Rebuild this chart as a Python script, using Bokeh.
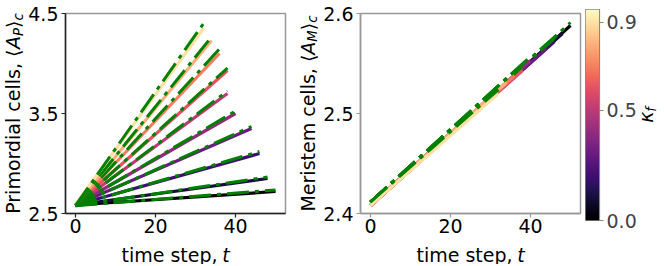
import math
import numpy as np
from bokeh.plotting import figure
from bokeh.layouts import row, column
from bokeh.models import Range1d, FixedTicker, Label, LinearColorMapper, PrintfTickFormatter
from bokeh.palettes import Magma256
from bokeh.embed import file_html
from bokeh.resources import INLINE

# ---------------- data ----------------
kappa = [0.0, 0.1, 0.2, 0.3, 0.4, 0.5, 0.6, 0.7, 0.8, 0.9]
t_end = [50, 48, 46, 44, 40, 38, 38, 36, 34, 32]

# primordial cells <A_P>_c : simulation (solid) and fit (green dash-dot)
ap_start = [2.585, 2.585, 2.585, 2.585, 2.585, 2.585, 2.585, 2.585, 2.585, 2.59]
ap_end = [2.72, 2.85, 3.10, 3.35, 3.50, 3.70, 3.93, 4.10, 4.23, 4.35]
ap_fit_start = [2.578, 2.578, 2.578, 2.578, 2.578, 2.578, 2.578, 2.578, 2.578, 2.578]
ap_fit_end = [2.735, 2.865, 3.12, 3.37, 3.525, 3.725, 3.955, 4.145, 4.265, 4.40]

# meristem cells <A_M>_c
am_start = [2.408, 2.408, 2.408, 2.408, 2.408, 2.408, 2.408, 2.408, 2.408, 2.408]
am_end = [2.588, 2.580, 2.572, 2.565, 2.553, 2.545, 2.543, 2.538, 2.531, 2.520]
am_fit_start = [2.4115, 2.4115, 2.4115, 2.4115, 2.4115, 2.4115, 2.4115, 2.4115, 2.4115, 2.4115]
am_fit_end = [2.591, 2.583, 2.575, 2.568, 2.557, 2.549, 2.547, 2.542, 2.535, 2.524]

x_ticks = [0, 20, 40]
ap_ticks = [2.5, 3.5, 4.5]
am_ticks = [2.4, 2.5, 2.6]
cb_ticks = [0.0, 0.5, 0.9]
cb_low, cb_high = 0.0, 0.958

# ---------------- style / layout ----------------
FONT = "DejaVu Sans"
FS = 19
SUB = 13.3
MID = 0.36            # distance (em) from baseline to the text middle
FIT_COLOR = "green"
DARK = "#222222"
GRAY = "#999999"
H_MAIN = 240
H_XL = 24
H_ALL = H_MAIN + H_XL
CB_TOP, CB_BOTTOM = 9, 220          # colour bar frame (page px)
SIDE_TOP, SIDE_BOT = CB_TOP, H_ALL - CB_BOTTOM

colors = [Magma256[int(round((k - cb_low) / (cb_high - cb_low) * 255))] for k in kappa]


def base_fig(width, xr, yr, mbl, mbr, axis_color):
    p = figure(width=width, height=H_MAIN, x_range=Range1d(*xr), y_range=Range1d(*yr),
               output_backend="svg", toolbar_location=None,
               min_border_left=mbl, min_border_right=mbr, min_border_top=13, min_border_bottom=27)
    p.xgrid.grid_line_color = None
    p.ygrid.grid_line_color = None
    p.outline_line_color = GRAY
    p.outline_line_width = 1.5
    for ax in (p.xaxis[0], p.yaxis[0]):
        ax.axis_line_color = axis_color
        ax.axis_line_width = 1.5
        ax.major_tick_line_color = axis_color
        ax.major_tick_line_width = 1.2
        ax.major_tick_in = 0
        ax.major_tick_out = 4
        ax.minor_tick_line_color = None
        ax.major_label_text_font = FONT
        ax.major_label_text_font_size = f"{FS}px"
        ax.major_label_text_color = "black"
    p.xaxis[0].major_label_standoff = 1
    p.yaxis[0].major_label_standoff = 3
    p.xaxis[0].ticker = FixedTicker(ticks=x_ticks)
    return p


def label_fig(x0, width, height, mbl, mbr, mbt, mbb, y_bottom_page):
    # a text-only figure whose data coordinates are page pixels (y measured upward from page bottom)
    fl, fr = x0 + mbl, x0 + width - mbr
    ft, fb = y_bottom_page - height + mbt, y_bottom_page - mbb
    p = figure(width=width, height=height,
               x_range=Range1d(fl, fr), y_range=Range1d(H_ALL - fb, H_ALL - ft),
               output_backend="svg", toolbar_location=None,
               x_axis_location=None, y_axis_location=None,
               min_border_left=mbl, min_border_right=mbr, min_border_top=mbt, min_border_bottom=mbb)
    p.xgrid.grid_line_color = None
    p.ygrid.grid_line_color = None
    p.outline_line_color = None
    return p


def add_piece(p, x, y, text, size, italic, angle, baseline):
    p.add_layout(Label(x=x, y=H_ALL - y, text=text, angle=angle,
                       text_align="left", text_baseline=baseline,
                       text_font=FONT, text_font_size=f"{size}px",
                       text_font_style="italic" if italic else "normal",
                       text_color="black"))


def rot_label(p, bx, cy, pieces):
    # text reading upward; bx = page x of the main baseline, centred on page y = cy
    tot = sum(pc[4] for pc in pieces)
    y = cy + tot / 2
    for text, size, italic, shift, adv in pieces:
        add_piece(p, bx + shift - MID * size, y, text, size, italic, math.pi / 2, "middle")
        y -= adv


def horiz_label(p, cx, by, pieces):
    tot = sum(pc[4] for pc in pieces)
    x = cx - tot / 2
    for text, size, italic, shift, adv in pieces:
        add_piece(p, x, by + shift, text, size, italic, 0, "alphabetic")
        x += adv


XR = (-2.5, 52.5)
xl_pieces = [("time step, ", FS, False, 0, 5.376 * FS), ("t", FS, True, 0, 0.392 * FS)]

# ---------------- left panel ----------------
p1 = base_fig(268, XR, (2.5, 4.5), 37, 8, DARK)
p1.yaxis[0].ticker = FixedTicker(ticks=ap_ticks)
for i in range(len(kappa)):
    p1.line([0, t_end[i]], [ap_start[i], ap_end[i]], line_color=colors[i], line_width=3.2)
    p1.line([0, t_end[i]], [ap_fit_start[i], ap_fit_end[i]], line_color=FIT_COLOR,
            line_width=3.0, line_dash="22 6 4 6")

pieces1 = [("Primordial cells, \u27e8", FS, False, 0, 8.679 * FS),
           ("A", FS, True, 0, 0.684 * FS),
           ("P", SUB, True, 3, 0.603 * SUB),
           ("\u27e9", FS, False, 0, 0.39 * FS),
           ("c", SUB, True, 3, 0.55 * SUB)]
ly1 = label_fig(0, 25, H_ALL, 0, 0, SIDE_TOP, SIDE_BOT, H_ALL)
rot_label(ly1, 19.5, 113, pieces1)

lx1 = label_fig(25, 268, H_XL, 37, 8, 0, 0, H_ALL)
horiz_label(lx1, 62 + 223 / 2, 254.5, xl_pieces)

# ---------------- right panel ----------------
p2 = base_fig(265, XR, (2.4, 2.6), 37, 5, GRAY)
p2.yaxis[0].ticker = FixedTicker(ticks=am_ticks)
for i in range(len(kappa)):
    p2.line([0, t_end[i]], [am_start[i], am_end[i]], line_color=colors[i], line_width=3.2)
    p2.line([0, t_end[i]], [am_fit_start[i], am_fit_end[i]], line_color=FIT_COLOR,
            line_width=3.0, line_dash="22 6 4 6")

pieces2 = [("Meristem cells, \u27e8", FS, False, 0, 8.255 * FS),
           ("A", FS, True, 0, 0.684 * FS),
           ("M", SUB, True, 3, 0.863 * SUB),
           ("\u27e9", FS, False, 0, 0.39 * FS),
           ("c", SUB, True, 3, 0.55 * SUB)]
ly2 = label_fig(293, 27, H_ALL, 0, 0, SIDE_TOP, SIDE_BOT, H_ALL)
rot_label(ly2, 314, 113, pieces2)

lx2 = label_fig(320, 265, H_XL, 37, 5, 0, 0, H_ALL)
horiz_label(lx2, 357 + 223 / 2, 254.5, xl_pieces)

# ---------------- colour bar ----------------
p3 = figure(width=54, height=H_ALL, x_range=Range1d(0, 1), y_range=Range1d(cb_low, cb_high),
            output_backend="svg", toolbar_location=None, x_axis_location=None,
            y_axis_location="right", min_border_left=0, min_border_right=37,
            min_border_top=SIDE_TOP, min_border_bottom=SIDE_BOT)
p3.xgrid.grid_line_color = None
p3.ygrid.grid_line_color = None
p3.outline_line_color = "#888888"
p3.outline_line_width = 1.2
mapper = LinearColorMapper(palette=Magma256, low=cb_low, high=cb_high)
grad = np.linspace(cb_low, cb_high, 256).reshape(-1, 1)
p3.image(image=[grad], x=0, y=cb_low, dw=1, dh=cb_high - cb_low, color_mapper=mapper)
ax3 = p3.yaxis[0]
ax3.ticker = FixedTicker(ticks=cb_ticks)
ax3.formatter = PrintfTickFormatter(format="%.1f")
ax3.axis_line_color = "#888888"
ax3.major_tick_line_color = "#888888"
ax3.major_tick_in = 0
ax3.major_tick_out = 4
ax3.minor_tick_line_color = None
ax3.major_label_text_font = FONT
ax3.major_label_text_font_size = f"{FS}px"
ax3.major_label_standoff = 3

lk = label_fig(639, 20, H_ALL, 0, 0, SIDE_TOP, SIDE_BOT, H_ALL)
kp = [("\u03ba", FS, True, 0, 0.58 * FS), ("f", SUB, True, 4, 0.352 * SUB)]
rot_label(lk, 652, 114.5, kp)

layout = row(ly1, column(p1, lx1), ly2, column(p2, lx2), p3, lk)
open("out.html", "w").write(file_html(layout, INLINE))
